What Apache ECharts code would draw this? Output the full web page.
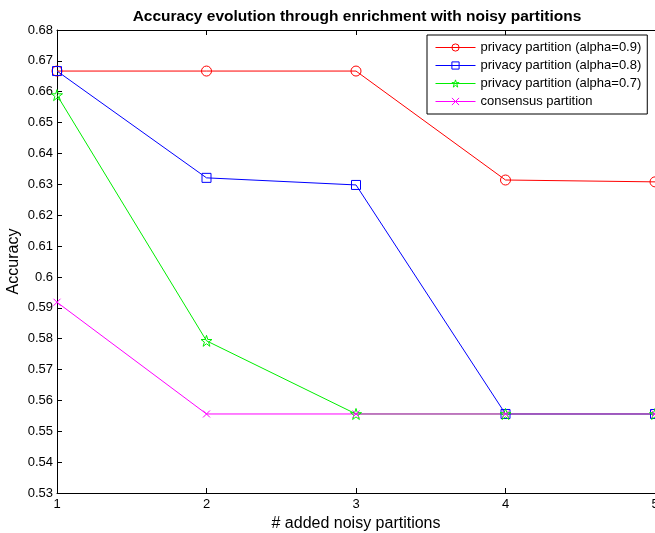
<!DOCTYPE html>
<html>
<head>
<meta charset="utf-8">
<script src="https://cdn.jsdelivr.net/npm/echarts@6/dist/echarts.min.js"></script>
<style>
  html, body { margin: 0; padding: 0; background: #fff; }
  #chart { width: 655px; height: 533px; }
</style>
</head>
<body>
<div id="chart"></div>
<script>
  // x values: number of added noisy partitions
  var xValues = [1, 2, 3, 4, 5]
  var seriesNames = [
    'privacy partition (alpha=0.9)',
    'privacy partition (alpha=0.8)',
    'privacy partition (alpha=0.7)',
    'consensus partition'
  ]
  var alpha09 = [0.6667, 0.6667, 0.6667, 0.6314, 0.6308]
  var alpha08 = [0.6667, 0.6321, 0.6298, 0.5556, 0.5556]
  var alpha07 = [0.6589, 0.5793, 0.5556, 0.5556, 0.5556]
  var consensus = [0.5918, 0.5556, 0.5556, 0.5556, 0.5556]

  var starPath = 'path://M50,0 L61.8,36.2 L100,36.2 L69.1,58.5 L80.9,95.1 L50,72.6 L19.1,95.1 L30.9,58.5 L0,36.2 L38.2,36.2 Z'
  var crossPath = 'path://M0,0 L10,10 M10,0 L0,10'

  function pairs (vals) {
    return xValues.map(function (x, i) { return [x, vals[i]] })
  }

  function makeSeries (name, vals, color, symbol, size) {
    return {
      name: name,
      type: 'line',
      data: pairs(vals),
      symbol: symbol,
      symbolSize: size,
      showAllSymbol: true,
      clip: false,
      lineStyle: { color: color, width: 1 },
      itemStyle: { color: 'rgba(0,0,0,0)', borderColor: color, borderWidth: 1 },
      emphasis: { disabled: true },
      animation: false
    }
  }

  var myChart = echarts.init(document.getElementById('chart'))
  var fontFam = 'Liberation Sans, Arial, sans-serif'
  var axisText = { color: '#000', fontFamily: fontFam, fontSize: 13 }
  var option = {
    backgroundColor: '#fff',
    animation: false,
    title: {
      text: 'Accuracy evolution through enrichment with noisy partitions',
      left: 352,
      textAlign: 'center',
      top: 4,
      textStyle: { color: '#000', fontFamily: fontFam, fontSize: 15.5, fontWeight: 'bold' }
    },
    legend: {
      orient: 'vertical',
      left: 427,
      top: 35,
      padding: [5, 6, 5, 8],
      itemGap: 3,
      itemWidth: 40,
      itemHeight: 9,
      lineStyle: { width: 1 },
      itemStyle: { color: 'rgba(0,0,0,0)', borderWidth: 1 },
      borderColor: '#000',
      borderWidth: 1,
      backgroundColor: '#fff',
      textStyle: { color: '#000', fontFamily: fontFam, fontSize: 13, lineHeight: 15 },
      data: seriesNames
    },
    grid: { left: 57, right: 0, top: 30, bottom: 40, outerBoundsMode: 'none', containLabel: false },
    xAxis: [
      {
        type: 'value',
        min: 1,
        max: 5,
        interval: 1,
        name: '# added noisy partitions',
        nameLocation: 'middle',
        nameGap: 20,
        nameTextStyle: { color: '#000', fontFamily: fontFam, fontSize: 16 },
        axisLine: { lineStyle: { color: '#000', width: 1 } },
        axisTick: { inside: true, length: 5, lineStyle: { color: '#000' } },
        axisLabel: Object.assign({ margin: 5 }, axisText),
        splitLine: { show: false }
      },
      {
        type: 'value',
        position: 'top',
        min: 1,
        max: 5,
        interval: 1,
        axisLine: { lineStyle: { color: '#000', width: 1 } },
        axisTick: { inside: true, length: 5, lineStyle: { color: '#000' } },
        axisLabel: { show: false },
        splitLine: { show: false }
      }
    ],
    yAxis: [
      {
        type: 'value',
        min: 0.53,
        max: 0.68,
        interval: 0.01,
        name: 'Accuracy',
        nameLocation: 'middle',
        nameGap: 35,
        nameMoveOverlap: false,
        nameTextStyle: { color: '#000', fontFamily: fontFam, fontSize: 16 },
        axisLine: { show: true, lineStyle: { color: '#000', width: 1 } },
        axisTick: { show: true, inside: true, length: 5, lineStyle: { color: '#000' } },
        axisLabel: Object.assign({
          margin: 4,
          formatter: function (v) { return String(+v.toFixed(2)) }
        }, axisText),
        splitLine: { show: false }
      }
    ],
    series: [
      makeSeries(seriesNames[0], alpha09, '#ff0000', 'circle', 10),
      makeSeries(seriesNames[1], alpha08, '#0000ff', 'rect', 9),
      makeSeries(seriesNames[2], alpha07, '#00ee00', starPath, 11),
      makeSeries(seriesNames[3], consensus, '#ff00ff', crossPath, 7)
    ]
  }
  myChart.setOption(option)
</script>
</body>
</html>
